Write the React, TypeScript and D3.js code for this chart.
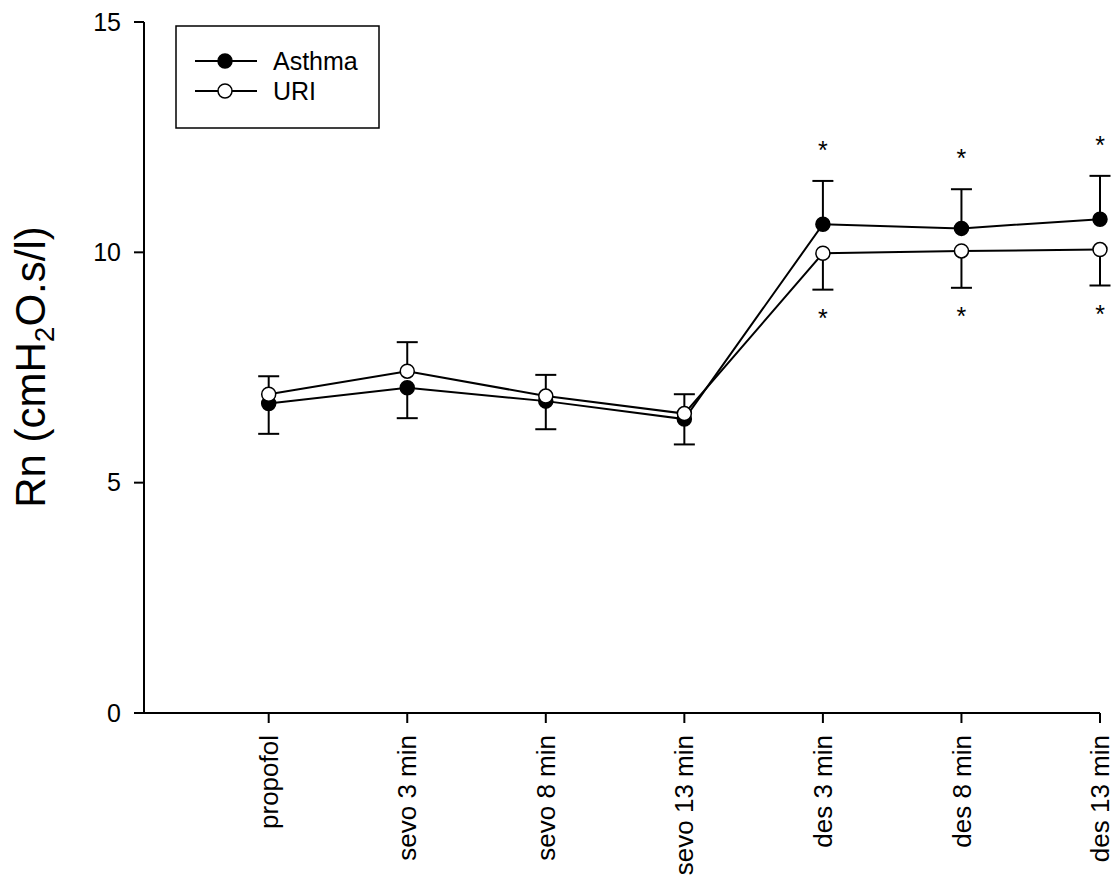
import React from "react";
import * as d3 from "d3";

// Respiratory resistance (Rn) by anaesthesia phase, mean ± SEM
const categories = [
  "propofol",
  "sevo 3 min",
  "sevo 8 min",
  "sevo 13 min",
  "des 3 min",
  "des 8 min",
  "des 13 min",
];
const asthmaMean = [6.72, 7.06, 6.77, 6.38, 10.61, 10.52, 10.72];
const asthmaErr = [0.66, 0.66, 0.61, 0.55, 0.94, 0.85, 0.94];
const uriMean = [6.92, 7.42, 6.88, 6.5, 9.98, 10.03, 10.06];
const uriErr = [0.39, 0.63, 0.46, 0.42, 0.79, 0.8, 0.78];
const asthmaSig = [false, false, false, false, true, true, true];
const uriSig = [false, false, false, false, true, true, true];
const yTicks = [0, 5, 10, 15];

const W = 1118;
const H = 884;
const FONT = "Arial, 'Liberation Sans', Helvetica, sans-serif";

export default function App() {
  const x = d3.scaleLinear().domain([-0.9, 6]).range([144, 1100]);
  const y = d3.scaleLinear().domain([0, 15]).range([713, 22]);
  const idx = categories.map((_, i) => i);

  const line = d3
    .line<number>()
    .x((d, i) => x(i))
    .y((d) => y(d));

  const r = 7;

  // Error bar points outward: the higher series gets the upper bar
  const bars = idx.flatMap((i) => {
    const aUp = asthmaMean[i] >= uriMean[i];
    return [
      { i, v: asthmaMean[i], e: asthmaErr[i], up: aUp, sig: asthmaSig[i] },
      { i, v: uriMean[i], e: uriErr[i], up: !aUp, sig: uriSig[i] },
    ];
  });

  return (
    <svg
      width={W}
      height={H}
      style={{ position: "absolute", left: 0, top: 0, background: "#fff" }}
      fontFamily={FONT}
    >
      {/* axes */}
      <line x1={144} x2={144} y1={y(15)} y2={y(0)} stroke="#000" strokeWidth={2} />
      <line x1={134} x2={x(6)} y1={y(0)} y2={y(0)} stroke="#000" strokeWidth={2} />
      {yTicks.map((t) => (
        <g key={t}>
          <line x1={134} x2={144} y1={y(t)} y2={y(t)} stroke="#000" strokeWidth={2} />
          <text x={121} y={y(t)} dy="0.35em" textAnchor="end" fontSize={25}>
            {t}
          </text>
        </g>
      ))}
      {categories.map((c, i) => (
        <g key={c}>
          <line x1={x(i)} x2={x(i)} y1={y(0)} y2={y(0) + 10} stroke="#000" strokeWidth={2} />
          <text
            transform={`translate(${x(i)},${735}) rotate(-90)`}
            textAnchor="end"
            dy="0.35em"
            fontSize={26}
          >
            {c}
          </text>
        </g>
      ))}
      <text
        transform={`translate(45,367) rotate(-90)`}
        textAnchor="middle"
        fontSize={42}
      >
        Rn (cmH
        <tspan fontSize={28} dy={9}>
          2
        </tspan>
        <tspan dy={-9}>O.s/l)</tspan>
      </text>

      {/* error bars */}
      {bars.map((b, k) => {
        const end = b.up ? b.v + b.e : b.v - b.e;
        const yEnd = y(end);
        return (
          <g key={k}>
            <line x1={x(b.i)} x2={x(b.i)} y1={y(b.v)} y2={yEnd} stroke="#000" strokeWidth={2} />
            <line
              x1={x(b.i) - 10.5}
              x2={x(b.i) + 10.5}
              y1={yEnd}
              y2={yEnd}
              stroke="#000"
              strokeWidth={2}
            />
            {b.sig && (
              <text
                x={x(b.i)}
                y={b.up ? yEnd - 22 : yEnd + 37}
                textAnchor="middle"
                fontSize={25}
              >
                *
              </text>
            )}
          </g>
        );
      })}

      {/* series */}
      <path d={line(asthmaMean) ?? ""} fill="none" stroke="#000" strokeWidth={2} />
      <path d={line(uriMean) ?? ""} fill="none" stroke="#000" strokeWidth={2} />
      {asthmaMean.map((v, i) => (
        <circle key={`a${i}`} cx={x(i)} cy={y(v)} r={r} fill="#000" stroke="#000" strokeWidth={1.5} />
      ))}
      {uriMean.map((v, i) => (
        <circle key={`u${i}`} cx={x(i)} cy={y(v)} r={r} fill="#fff" stroke="#000" strokeWidth={1.5} />
      ))}

      {/* legend */}
      <rect x={176} y={26} width={203} height={102} fill="#fff" stroke="#000" strokeWidth={1.5} />
      <line x1={195} x2={257} y1={61} y2={61} stroke="#000" strokeWidth={2} />
      <circle cx={225} cy={61} r={r} fill="#000" stroke="#000" strokeWidth={1.5} />
      <text x={273} y={61} dy="0.35em" fontSize={25}>
        Asthma
      </text>
      <line x1={195} x2={257} y1={91} y2={91} stroke="#000" strokeWidth={2} />
      <circle cx={225} cy={91} r={r} fill="#fff" stroke="#000" strokeWidth={1.5} />
      <text x={273} y={91} dy="0.35em" fontSize={25}>
        URI
      </text>
    </svg>
  );
}
